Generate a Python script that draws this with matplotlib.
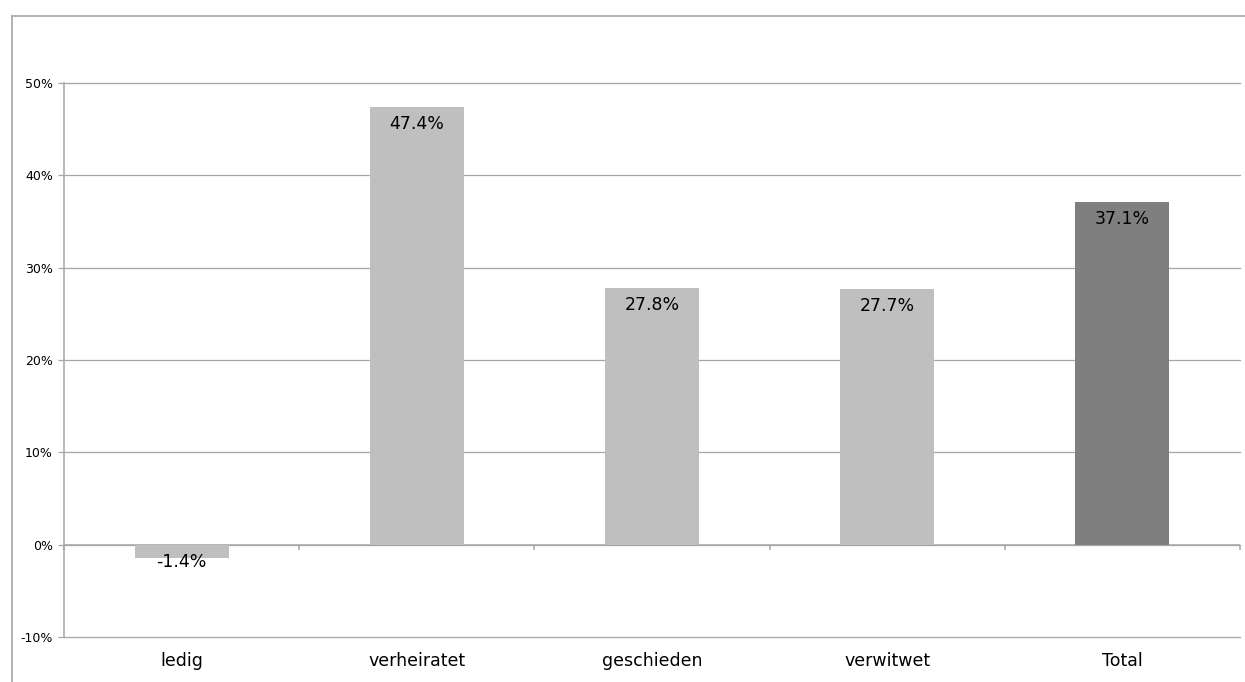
import matplotlib.pyplot as plt
from matplotlib.lines import Line2D
import numpy as np

# Data
categories = ['ledig', 'verheiratet', 'geschieden', 'verwitwet', 'Total']
values = [-1.4, 47.4, 27.8, 27.7, 37.1]
bar_colors = ['#bfbfbf', '#bfbfbf', '#bfbfbf', '#bfbfbf', '#7f7f7f']
y_ticks = [-10, 0, 10, 20, 30, 40, 50]

W, H = 1245, 682
fig = plt.figure(figsize=(W / 100, H / 100), dpi=100)
plt.rcParams['font.family'] = ['DejaVu Sans']

# outer frame (cropped at right and bottom)
fig.add_artist(Line2D([11.5 / W, 11.5 / W], [0, 1 - 15.5 / H],
                      transform=fig.transFigure, color='#a6a6a6', lw=1.2))
fig.add_artist(Line2D([11.5 / W, 1], [1 - 15.5 / H, 1 - 15.5 / H],
                      transform=fig.transFigure, color='#a6a6a6', lw=1.2))

ax = fig.add_axes([64 / W, 1 - 637 / H, 1176 / W, 554 / H])

x = np.arange(len(categories))
ax.bar(x, values, width=0.4, color=bar_colors, zorder=3)

ax.set_xlim(-0.5, len(categories) - 0.5)
ax.set_ylim(-10, 50)

# gridlines
grid_color = '#a6a6a6'
for t in y_ticks:
    ax.axhline(t, color=grid_color, lw=0.9, zorder=1, clip_on=False)

# zero axis line with category-boundary ticks
ax.axhline(0, color=grid_color, lw=1.1, zorder=2)
bounds = np.arange(len(categories) + 1) - 0.5
ax.vlines(bounds, -0.55, 0, color=grid_color, lw=1.1, zorder=2, clip_on=False)

for s in ['top', 'right', 'bottom']:
    ax.spines[s].set_visible(False)
ax.spines['left'].set_color(grid_color)
ax.spines['left'].set_linewidth(1.1)

ax.set_yticks(y_ticks)
ax.set_yticklabels([f'{t}%' for t in y_ticks], fontsize=9)
ax.tick_params(axis='y', length=4, width=0.9, color=grid_color, pad=4)

ax.set_xticks(x)
ax.set_xticklabels(categories, fontsize=12.5)
ax.tick_params(axis='x', length=0, pad=11)

# value labels just inside the bar end
for xi, v in zip(x, values):
    ax.annotate(f'{v:.1f}%', (xi, v), xytext=(0, -6 if v > 0 else 3),
                textcoords='offset points', ha='center', va='top',
                fontsize=12.5, zorder=4)

fig.savefig('out.png', dpi=100)
